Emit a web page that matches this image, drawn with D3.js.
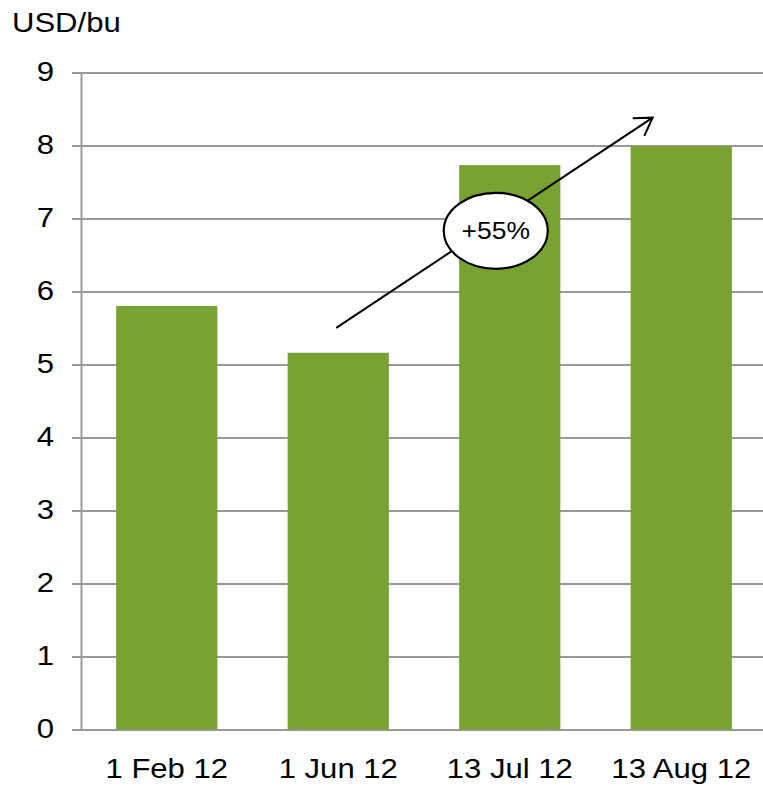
<!DOCTYPE html>
<html>
<head>
<meta charset="utf-8">
<script src="https://cdn.jsdelivr.net/npm/d3@7"></script>
<style>
  html, body { margin: 0; padding: 0; background: #fff; }
  svg { display: block; font-family: "Liberation Sans", Arial, sans-serif; }
</style>
</head>
<body>
<svg id="chart" width="763" height="787"></svg>
<script>
(function() {

  // Categories and values (USD/bu).
  var categories = ["1 Feb 12", "1 Jun 12", "13 Jul 12", "13 Aug 12"];
  var prices = [5.80, 5.16, 7.73, 7.99];

  // Y axis ticks.
  var yTicks = [0, 1, 2, 3, 4, 5, 6, 7, 8, 9];

  // Unit label and annotation.
  var unitLabel = "USD/bu";
  var changeLabel = "+55%";

  // Horizontal stretch of the text in the picture.
  var stretch = 1.15;

  var svg = d3.select("#chart");

  var left = 81, right = 767, top = 72.4, bottom = 729.4;

  var x = d3.scaleBand()
            .domain(categories)
            .range([left, right])
            .paddingInner(0.41)
            .paddingOuter(0.205);

  var y = d3.scaleLinear()
            .domain([0, 9])
            .range([bottom, top]);

  // Unit label.
  svg.append("text")
     .attr("transform", "translate(12,31.5) scale(" + stretch + ",1)")
     .attr("font-size", 27)
     .attr("fill", "#000")
     .text(unitLabel);

  // Y axis with gridlines.
  var yAxis = svg.append("g")
                 .attr("transform", "translate(" + left + ",0)")
                 .call(d3.axisLeft(y)
                         .tickValues(yTicks)
                         .tickSizeInner(-(763 - left))
                         .tickSizeOuter(0)
                         .tickPadding(27));

  yAxis.select(".domain")
       .attr("stroke", "#999")
       .attr("stroke-width", 2);

  yAxis.selectAll(".tick line")
       .attr("x1", -9)
       .attr("x2", 763 - left)
       .attr("stroke", "#999")
       .attr("stroke-width", 2);

  yAxis.selectAll(".tick text")
       .attr("x", null)
       .attr("dy", null)
       .attr("transform", "translate(-27,8.5) scale(" + stretch + ",1)")
       .attr("font-size", 27)
       .attr("font-family", null)
       .attr("fill", "#000");

  // Draw the bars.
  svg.selectAll(".bar")
     .data(prices)
     .enter()
     .append("rect")
     .attr("class", "bar")
     .attr("x", function(d, i) { return x(categories[i]); })
     .attr("y", function(d) { return y(d); })
     .attr("width", x.bandwidth())
     .attr("height", function(d) { return y(0) - y(d); })
     .attr("fill", "#78a232");

  // X axis labels.
  var xAxis = svg.append("g")
                 .attr("transform", "translate(0," + bottom + ")")
                 .call(d3.axisBottom(x).tickSize(0));

  xAxis.select(".domain").remove();

  xAxis.selectAll(".tick text")
       .attr("y", null)
       .attr("dy", null)
       .attr("transform", "translate(0,48.5) scale(" + stretch + ",1)")
       .attr("font-size", 27)
       .attr("font-family", null)
       .attr("fill", "#000");

  // Arrow marker.
  svg.append("defs")
     .append("marker")
     .attr("id", "head")
     .attr("markerUnits", "userSpaceOnUse")
     .attr("orient", "auto")
     .attr("refX", 0)
     .attr("refY", 0)
     .attr("markerWidth", 40)
     .attr("markerHeight", 40)
     .attr("overflow", "visible")
     .append("path")
     .attr("d", "M-17,-10.5L0,0L-17,10.5")
     .attr("fill", "none")
     .attr("stroke", "#000")
     .attr("stroke-width", 2);

  // Arrow from the June bar to above the August bar.
  var x1 = x(categories[1]) + x.bandwidth() / 2 - 2;
  var y1 = y(5.5);
  var x2 = x(categories[3]) + 22;
  var y2 = y(8.38);

  svg.append("line")
     .attr("x1", x1)
     .attr("y1", y1)
     .attr("x2", x2)
     .attr("y2", y2)
     .attr("stroke", "#000")
     .attr("stroke-width", 2)
     .attr("marker-end", "url(#head)");

  // Ellipse with the change.
  var cx = x(categories[2]) + x.bandwidth() / 2 - 14;
  var cy = y(6.83);

  svg.append("ellipse")
     .attr("cx", cx)
     .attr("cy", cy)
     .attr("rx", 52)
     .attr("ry", 38)
     .attr("fill", "#fff")
     .attr("stroke", "#000")
     .attr("stroke-width", 2.2);

  svg.append("text")
     .attr("transform", "translate(" + cx + "," + (cy + 8.5) + ") scale(" + stretch + ",1)")
     .attr("text-anchor", "middle")
     .attr("font-size", 23)
     .attr("fill", "#000")
     .text(changeLabel);

})();
</script>
</body>
</html>
